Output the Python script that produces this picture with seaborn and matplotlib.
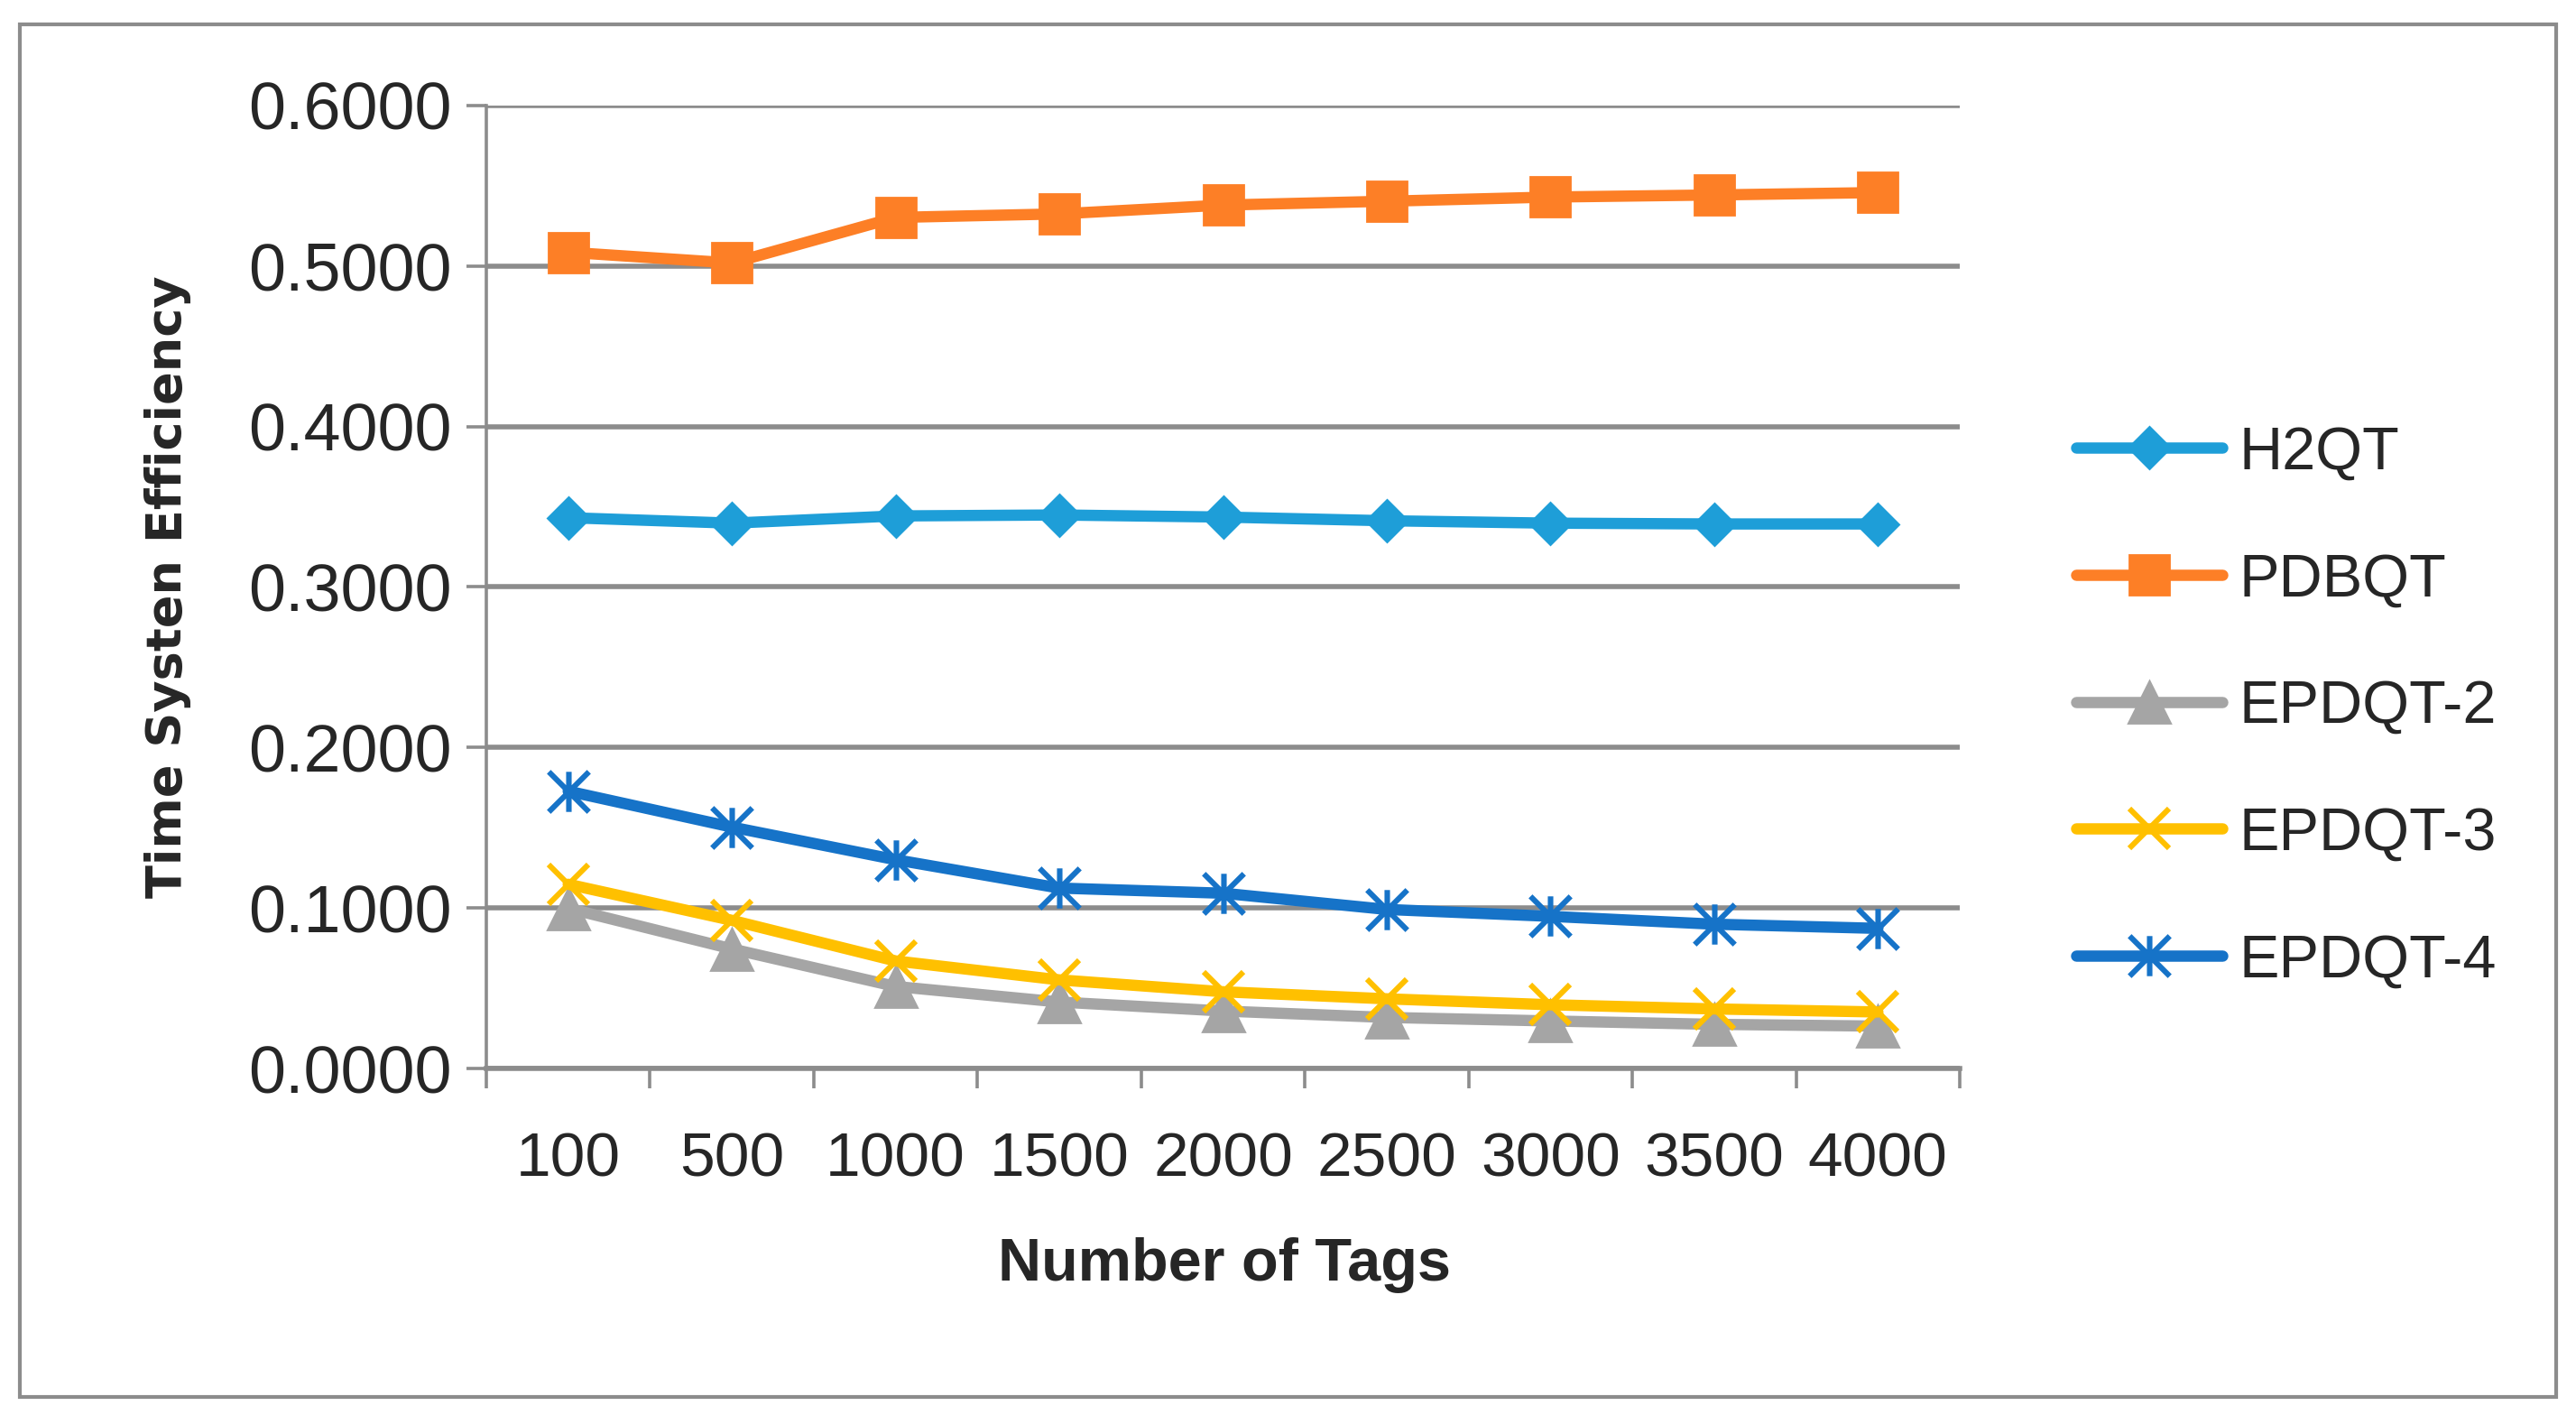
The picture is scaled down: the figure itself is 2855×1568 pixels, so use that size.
import pandas as pd
import matplotlib
matplotlib.use('Agg')
import matplotlib.pyplot as plt
from matplotlib.path import Path
from matplotlib.patches import Rectangle
from matplotlib.ticker import FormatStrFormatter, FixedLocator
import seaborn as sns

# values
tags = ['100', '500', '1000', '1500', '2000', '2500', '3000', '3500', '4000']
h2qt = [0.3432, 0.3398, 0.3443, 0.3449, 0.3436, 0.3413, 0.3398, 0.3393, 0.3393]
pdbqt = [0.5086, 0.5019, 0.5303, 0.5325, 0.5380, 0.5404, 0.5430, 0.5443, 0.5458]
epdqt2 = [0.0998, 0.0745, 0.0511, 0.0414, 0.0358, 0.0318, 0.0296, 0.0275, 0.0264]
epdqt3 = [0.1148, 0.0923, 0.0670, 0.0552, 0.0478, 0.0434, 0.0397, 0.0371, 0.0352]
epdqt4 = [0.1728, 0.1504, 0.1301, 0.1124, 0.1092, 0.0991, 0.0948, 0.0899, 0.0873]

series_names = ['H2QT', 'PDBQT', 'EPDQT-2', 'EPDQT-3', 'EPDQT-4']
series_values = [h2qt, pdbqt, epdqt2, epdqt3, epdqt4]
colors = ['#1E9ED8', '#FD7F26', '#A5A5A5', '#FFC000', '#1673C8']

rows = []
for name, vals in zip(series_names, series_values):
    for i, (t, v) in enumerate(zip(tags, vals)):
        rows.append({'series': name, 'pos': i, 'tags': t, 'value': v})
df = pd.DataFrame(rows)

star = Path([(-1, -1), (1, 1), (-1, 1), (1, -1), (0, -1), (0, 1)],
            [Path.MOVETO, Path.LINETO, Path.MOVETO, Path.LINETO, Path.MOVETO, Path.LINETO])
markers = ['D', 's', '^', 'x', star]
msizes = [11.5, 16, 16.5, 16, 16]
mews = [1, 1, 1, 2.2, 2.2]

sns.set_style('white')
plt.rcParams['font.family'] = ['Liberation Sans', 'DejaVu Sans']

fig = plt.figure(figsize=(14.275, 7.84), dpi=200)
ax = fig.add_axes([539 / 2855, 1 - 1184 / 1568, (2172 - 539) / 2855, (1184 - 117) / 1568])

grid_c = '#8C8C8C'
for name, c, m, ms, mew in zip(series_names, colors, markers, msizes, mews):
    sub = df[df['series'] == name]
    sns.lineplot(data=sub, x='pos', y='value', ax=ax, color=c, marker=m,
                 markersize=ms, markeredgecolor=c, markeredgewidth=mew,
                 linewidth=4.5, label=name, zorder=3, solid_capstyle='round')

ax.set_xlim(-0.5, 8.5)
ax.set_ylim(0, 0.6)
ax.set_yticks([0, 0.1, 0.2, 0.3, 0.4, 0.5, 0.6])
ax.yaxis.set_major_formatter(FormatStrFormatter('%.4f'))
ax.set_xticks(range(len(tags)))
ax.set_xticklabels(tags)
ax.xaxis.set_minor_locator(FixedLocator([i - 0.5 for i in range(len(tags) + 1)]))

ax.grid(axis='y', color=grid_c, linewidth=2)
ax.grid(axis='x', visible=False)
ax.set_axisbelow(True)
for s in ['top', 'right']:
    ax.spines[s].set_visible(False)
ax.spines['left'].set_color(grid_c)
ax.spines['left'].set_linewidth(1.3)
ax.spines['bottom'].set_color(grid_c)
ax.spines['bottom'].set_linewidth(2)

ax.tick_params(axis='y', which='major', direction='out', length=8, width=1.3,
               color=grid_c, pad=5.8, labelsize=26.5, left=True)
ax.tick_params(axis='x', which='major', length=0, pad=25, labelsize=25)
ax.tick_params(axis='x', which='minor', direction='out', length=8, width=1.3,
               color=grid_c, bottom=True)

ax.set_xlabel('Number of Tags', fontsize=24, fontweight='bold')
ax.xaxis.set_label_coords(0.501, -0.1755)
ax.set_ylabel('Time Systen Efficiency', fontsize=19.5, fontweight='bold',
              family=['DejaVu Sans'])
ax.yaxis.set_label_coords(-0.2, 0.5)

handles, labels = ax.get_legend_handles_labels()
ax.legend(handles, labels, loc='center left', bbox_to_anchor=(0.806, 0.5),
          bbox_transform=fig.transFigure, frameon=False, fontsize=24,
          handlelength=2.43, handletextpad=0.27, labelspacing=1.18,
          borderpad=0, borderaxespad=0, numpoints=1)

fig.patches.append(Rectangle((22 / 2855, 1 - 1548 / 1568), (2833 - 22) / 2855,
                             (1548 - 27) / 1568, transform=fig.transFigure,
                             fill=False, edgecolor=grid_c, linewidth=1.5))

fig.savefig('out.png', dpi=200, facecolor='white')
